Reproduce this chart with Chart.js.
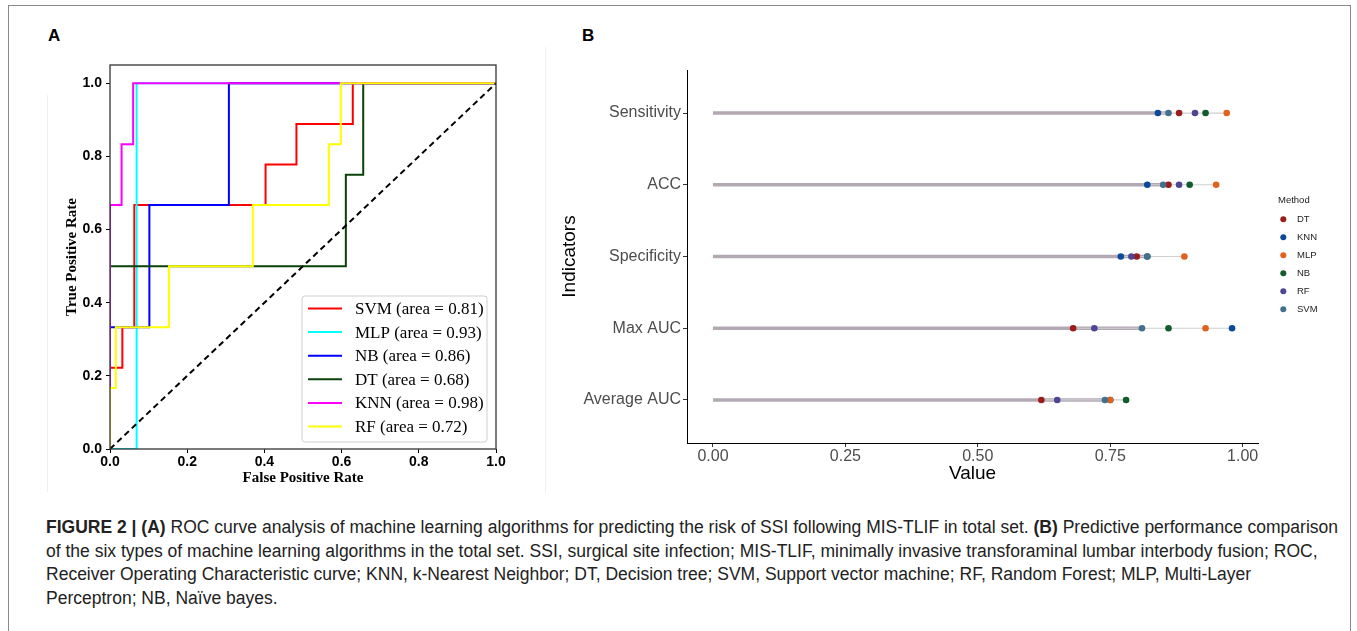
<!DOCTYPE html>
<html>
<head>
<meta charset="utf-8">
<script src="https://cdn.jsdelivr.net/npm/chart.js@4.4.0/dist/chart.umd.min.js"></script>
<style>
  html, body { margin: 0; padding: 0; background: #fff; }
  body { width: 1357px; height: 631px; position: relative; overflow: hidden; font-family: "Liberation Sans", Arial, sans-serif; }
  .frame { position: absolute; left: 8px; top: 5px; width: 1341px; height: 640px; border: 1px solid #8a8a8a; }
  .soft { position: absolute; background: #efefef; }
  .tag { position: absolute; font: bold 17px "Liberation Sans", Arial, sans-serif; color: #000; }
  canvas { position: absolute; }
  #caption { position: absolute; left: 46px; top: 516px; font: 18px "Liberation Sans Narrow", "Liberation Sans", sans-serif;
             line-height: 23.7px; color: #222; white-space: nowrap; transform-origin: 0 0; }
  #caption b { font-weight: bold; }
</style>
</head>
<body>
<div class="frame"></div>
<div class="soft" style="left:545px; top:47px; width:1px; height:445px;"></div>
<div class="soft" style="left:47px; top:95px; width:1px; height:397px;"></div>
<div class="tag" style="left:48px; top:26px;">A</div>
<div class="tag" style="left:582px; top:26px;">B</div>
<canvas id="rocChart" width="470" height="450" style="left:40px; top:50px;"></canvas>
<canvas id="dotChart" width="817" height="460" style="left:540px; top:40px;"></canvas>
<div id="caption">
  <span class="js-line"><b>FIGURE 2 | (A)</b> ROC curve analysis of machine learning algorithms for predicting the risk of SSI following MIS-TLIF in total set. <b>(B)</b> Predictive performance comparison</span><br>
  <span>of the six types of machine learning algorithms in the total set. SSI, surgical site infection; MIS-TLIF, minimally invasive transforaminal lumbar interbody fusion; ROC,</span><br>
  <span>Receiver Operating Characteristic curve; KNN, k-Nearest Neighbor; DT, Decision tree; SVM, Support vector machine; RF, Random Forest; MLP, Multi-Layer</span><br>
  <span>Perceptron; NB, Naïve bayes.</span>
</div>
<script>
// panel A - ROC curves (corner points, like roc_curve output)
const rocNames = ["SVM", "MLP", "NB", "DT", "KNN", "RF"];
const rocAreas = [0.81, 0.93, 0.86, 0.68, 0.98, 0.72];
const rocColors = ["#ff0000", "#00ffff", "#0000ff", "#0a420a", "#ff00ff", "#ffff00"];

const svmFpr = [0, 0, 0.032, 0.032, 0.063, 0.063, 0.403, 0.403, 0.483, 0.483, 0.629, 0.629, 1];
const svmTpr = [0, 0.222, 0.222, 0.333, 0.333, 0.667, 0.667, 0.778, 0.778, 0.889, 0.889, 1, 1];
const mlpFpr = [0, 0.069, 0.069, 1];
const mlpTpr = [0, 0, 1, 1];
const nbFpr = [0, 0, 0.102, 0.102, 0.308, 0.308, 1];
const nbTpr = [0, 0.333, 0.333, 0.667, 0.667, 1, 1];
const dtFpr = [0, 0, 0.611, 0.611, 0.656, 0.656, 1];
const dtTpr = [0, 0.5, 0.5, 0.75, 0.75, 1, 1];
const knnFpr = [0, 0, 0.030, 0.030, 0.060, 0.060, 1];
const knnTpr = [0, 0.667, 0.667, 0.833, 0.833, 1, 1];
const rfFpr = [0, 0, 0.015, 0.015, 0.153, 0.153, 0.370, 0.370, 0.567, 0.567, 0.598, 0.598, 1];
const rfTpr = [0, 0.167, 0.167, 0.333, 0.333, 0.5, 0.5, 0.667, 0.667, 0.833, 0.833, 1, 1];
const chanceLine = [0, 1];
const rocTicks = [0, 0.2, 0.4, 0.6, 0.8, 1.0];

// panel B - indicators per method
const indicators = ["Sensitivity", "ACC", "Specificity", "Max AUC", "Average AUC"];
const methods = ["DT", "KNN", "MLP", "NB", "RF", "SVM"];
const methodColors = ["#9a1d1a", "#0b4a9a", "#e0621c", "#105c2d", "#4e4594", "#42708e"];
const dtVals = [0.88, 0.86, 0.80, 0.68, 0.62];
const knnVals = [0.84, 0.82, 0.77, 0.98, 0.75];
const mlpVals = [0.97, 0.95, 0.89, 0.93, 0.75];
const nbVals = [0.93, 0.90, 0.82, 0.86, 0.78];
const rfVals = [0.91, 0.88, 0.79, 0.72, 0.65];
const svmVals = [0.86, 0.85, 0.82, 0.81, 0.74];
const valueTicks = [0, 0.25, 0.5, 0.75, 1.0];

const toPoints = function (xs, ys) {
  return xs.map((x, i) => ({ x: x, y: ys[i] }));
};

let rocChart;
let dotChart;

const makeRoc = function () {
  const curves = [[svmFpr, svmTpr], [mlpFpr, mlpTpr], [nbFpr, nbTpr], [dtFpr, dtTpr], [knnFpr, knnTpr], [rfFpr, rfTpr]];
  const datasets = curves.map((c, i) => ({
    label: `${rocNames[i]} (area = ${rocAreas[i].toFixed(2)})`,
    data: toPoints(c[0], c[1]),
    borderColor: rocColors[i],
    borderWidth: 2,
    pointRadius: 0,
    tension: 0,
    order: 10 - i // later curve on top, like matplotlib
  }));
  datasets.push({
    label: "chance",
    data: toPoints(chanceLine, chanceLine),
    borderColor: "#000",
    borderWidth: 2,
    borderDash: [6, 4],
    pointRadius: 0,
    order: 0
  });

  const framePlugin = {
    id: "frame",
    afterDatasetsDraw(chart) {
      const { ctx, chartArea: a } = chart;
      ctx.save();
      ctx.strokeStyle = "#333";
      ctx.lineWidth = 1.3;
      ctx.strokeRect(a.left, a.top, a.right - a.left, a.bottom - a.top);

      // legend box, lower right
      const bx = a.right - 194, by = a.bottom - 153, bw = 185, bh = 146;
      ctx.fillStyle = "rgba(255,255,255,0.85)";
      ctx.strokeStyle = "#d0d0d0";
      ctx.lineWidth = 1;
      ctx.beginPath();
      ctx.roundRect(bx, by, bw, bh, 3);
      ctx.fill();
      ctx.stroke();
      ctx.font = "17px 'Liberation Serif', 'Times New Roman', serif";
      ctx.textBaseline = "middle";
      for (let i = 0; i < rocNames.length; i++) {
        const y = by + 12.5 + i * 23.6;
        ctx.strokeStyle = rocColors[i];
        ctx.lineWidth = 2;
        ctx.beginPath();
        ctx.moveTo(bx + 6, y);
        ctx.lineTo(bx + 40, y);
        ctx.stroke();
        ctx.fillStyle = "#000";
        ctx.fillText(`${rocNames[i]} (area = ${rocAreas[i].toFixed(2)})`, bx + 53, y + 1);
      }
      ctx.restore();
    }
  };

  const tickFont = { family: "'Liberation Sans', Arial", size: 14, weight: "bold" };
  const titleFont = { family: "'Liberation Serif', serif", size: 15, weight: "bold" };

  rocChart = new Chart(document.getElementById("rocChart"), {
    type: "line",
    data: { datasets: datasets },
    options: {
      responsive: false,
      animation: false,
      devicePixelRatio: 1,
      layout: { padding: { left: 0, right: 14, top: 15, bottom: 0 } },
      plugins: { legend: { display: false }, tooltip: { enabled: false } },
      scales: {
        x: {
          type: "linear",
          min: 0,
          max: 1,
          afterBuildTicks: s => { s.ticks = rocTicks.map(v => ({ value: v })); },
          afterFit: s => { s.height = 51; },
          grid: { drawOnChartArea: false, color: "#000", tickLength: 4 },
          border: { display: false },
          ticks: { padding: 1, color: "#000", font: tickFont, callback: v => v.toFixed(1) },
          title: { display: true, text: "False Positive Rate", color: "#000", padding: { top: 0, bottom: 13 }, font: titleFont }
        },
        y: {
          type: "linear",
          min: 0,
          max: 1.05,
          afterBuildTicks: s => { s.ticks = rocTicks.map(v => ({ value: v })); },
          afterFit: s => { s.width = 70; },
          grid: { drawOnChartArea: false, color: "#000", tickLength: 4 },
          border: { display: false },
          ticks: { padding: 4, color: "#000", font: tickFont, callback: v => v.toFixed(1) },
          title: { display: true, text: "True Positive Rate", color: "#000", padding: { top: 23, bottom: 0 }, font: titleFont }
        }
      }
    },
    plugins: [framePlugin]
  });
};

const makeDots = function () {
  const allVals = [dtVals, knnVals, mlpVals, nbVals, rfVals, svmVals];
  const datasets = [];

  // thick bar from 0 to the SVM value, thin line spanning min..max
  indicators.forEach((name, i) => {
    const col = allVals.map(v => v[i]);
    datasets.push({
      type: "line",
      data: [{ x: 0, y: i }, { x: svmVals[i], y: i }],
      borderColor: "#b3a9b3",
      borderWidth: 3.5,
      pointRadius: 0,
      order: 100
    });
    datasets.push({
      type: "line",
      data: [{ x: Math.min(...col), y: i }, { x: Math.max(...col), y: i }],
      borderColor: "#cfcfcf",
      borderWidth: 1.2,
      pointRadius: 0,
      order: 90
    });
  });

  methods.forEach((m, k) => {
    datasets.push({
      type: "scatter",
      label: m,
      data: allVals[k].map((v, i) => ({ x: v, y: i })),
      backgroundColor: methodColors[k],
      borderColor: methodColors[k],
      pointRadius: 3.3,
      pointBorderWidth: 0,
      order: 10 - k
    });
  });

  const legendPlugin = {
    id: "methodLegend",
    afterDraw(chart) {
      const ctx = chart.ctx;
      const ox = 540, oy = 40;
      ctx.save();
      ctx.fillStyle = "#222";
      ctx.font = "9.5px 'Liberation Sans', Arial, sans-serif";
      ctx.textBaseline = "middle";
      ctx.fillText("Method", 1278 - ox, 200 - oy);
      methods.forEach((m, k) => {
        const y = 219.3 + k * 18 - oy;
        ctx.fillStyle = methodColors[k];
        ctx.beginPath();
        ctx.arc(1283.3 - ox, y, 3, 0, Math.PI * 2);
        ctx.fill();
        ctx.fillStyle = "#222";
        ctx.fillText(m, 1297 - ox, y);
      });
      ctx.restore();
    }
  };

  const labelFont = { family: "'Liberation Sans', Arial", size: 16 };
  const axisTitleFont = { family: "'Liberation Sans', Arial", size: 19 };

  dotChart = new Chart(document.getElementById("dotChart"), {
    type: "scatter",
    data: { datasets: datasets },
    options: {
      responsive: false,
      animation: false,
      devicePixelRatio: 1,
      layout: { padding: { left: 0, right: 99, top: 30, bottom: 0 } },
      plugins: { legend: { display: false }, tooltip: { enabled: false } },
      scales: {
        x: {
          type: "linear",
          min: -0.049,
          max: 1.029,
          afterBuildTicks: s => { s.ticks = valueTicks.map(v => ({ value: v })); },
          afterFit: s => { s.height = 57; },
          grid: { drawOnChartArea: false, color: "#333", tickLength: 4 },
          border: { display: true, color: "#000", width: 1 },
          ticks: { padding: 0, color: "#4d4d4d", font: labelFont, callback: v => v.toFixed(2) },
          title: { display: true, text: "Value", color: "#000", padding: { top: 0, bottom: 15 }, font: axisTitleFont }
        },
        y: {
          type: "linear",
          min: -0.6,
          max: 4.6,
          reverse: true,
          afterBuildTicks: s => { s.ticks = indicators.map((n, i) => ({ value: i })); },
          afterFit: s => { s.width = 147; },
          grid: { drawOnChartArea: false, color: "#333", tickLength: 4 },
          border: { display: true, color: "#000", width: 1 },
          ticks: { padding: 2, color: "#4d4d4d", font: labelFont, callback: v => indicators[v] },
          title: { display: true, text: "Indicators", color: "#000", padding: { top: 18, bottom: 0 }, font: axisTitleFont }
        }
      }
    },
    plugins: [legendPlugin]
  });
};

const fitCaption = function () {
  const cap = document.getElementById("caption");
  const first = cap.querySelector(".js-line");
  const w = first.getBoundingClientRect().width;
  cap.style.transform = `scaleX(${1292 / w})`;
};

document.addEventListener("DOMContentLoaded", function () {
  makeRoc();
  makeDots();
  fitCaption();
});
</script>
</body>
</html>
